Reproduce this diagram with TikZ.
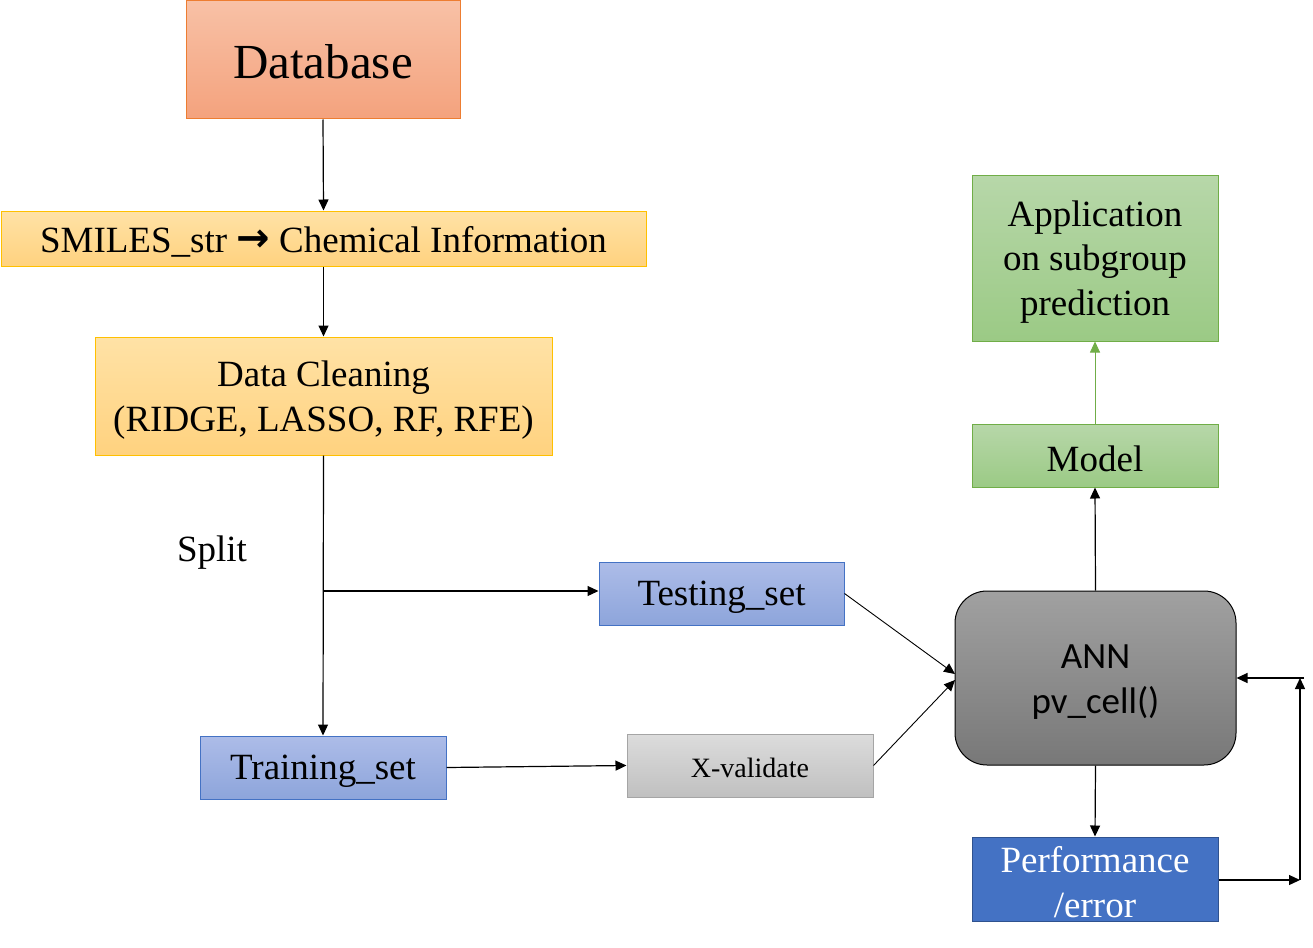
\documentclass[tikz,border=0pt]{standalone}
\usepackage{fontspec}
\setmainfont{Liberation Serif}
\newfontfamily\calibri{Carlito}
\newfontfamily\dejavub{DejaVu Sans Bold}
\usetikzlibrary{arrows.meta,calc}
\definecolor{orBorder}{HTML}{ED7D31}
\definecolor{orTop}{HTML}{F8C1A6}
\definecolor{orBot}{HTML}{F4A27D}
\definecolor{yeBorder}{HTML}{FFC000}
\definecolor{yeTop}{HTML}{FFE2A6}
\definecolor{yeBot}{HTML}{FFD27F}
\definecolor{blBorder}{HTML}{4472C4}
\definecolor{blTop}{HTML}{ADBCE8}
\definecolor{blBot}{HTML}{8DA5DB}
\definecolor{grBorder}{HTML}{A5A5A5}
\definecolor{grTop}{HTML}{DCDCDC}
\definecolor{grBot}{HTML}{C0C0C0}
\definecolor{gnBorder}{HTML}{70AD47}
\definecolor{gnTop}{HTML}{B7D7A9}
\definecolor{gnBot}{HTML}{9BCA85}
\definecolor{perfFill}{HTML}{4472C4}
\definecolor{perfBorder}{HTML}{2F528F}
\tikzset{
  box/.style={draw, line width=1pt, inner sep=0pt},
  txt/.style={inner sep=0pt, align=center, font=\fontsize{37}{44.5}\selectfont},
  orangebox/.style={box, draw=orBorder, top color=orTop, bottom color=orBot},
  yellowbox/.style={box, draw=yeBorder, top color=yeTop, bottom color=yeBot},
  bluebox/.style={box, draw=blBorder, top color=blTop, bottom color=blBot},
  graybox/.style={box, draw=grBorder, top color=grTop, bottom color=grBot},
  greenbox/.style={box, draw=gnBorder, top color=gnTop, bottom color=gnBot},
  conn/.style={line width=1.2pt, -{Triangle[length=11pt,width=10pt]}},
  thinconn/.style={line width=0.9pt, -{Triangle[length=11pt,width=10pt]}},
}
\begin{document}
\begin{tikzpicture}[x=1pt,y=-1pt]
\useasboundingbox (0,0) rectangle (1313,947);
% boxes
\node[orangebox, minimum width=274pt, minimum height=118pt] (db) at (323,60) {};
\node[yellowbox, minimum width=645pt, minimum height=55pt] (sm) at (323.5,238.5) {};
\node[yellowbox, minimum width=457pt, minimum height=118pt] (dc) at (323.5,396) {};
\node[bluebox, minimum width=245pt, minimum height=63pt] (te) at (721.5,593.5) {};
\node[bluebox, minimum width=246pt, minimum height=63pt] (tr) at (323,767.5) {};
\node[graybox, minimum width=246pt, minimum height=63pt] (xv) at (750,765.5) {};
\node[box, draw=black, rounded corners=32pt, top color=black!37, bottom color=black!53,
      minimum width=281pt, minimum height=174pt] (ann) at (1095.5,678) {};
\node[greenbox, minimum width=246pt, minimum height=63pt] (mo) at (1095,455.5) {};
\node[greenbox, minimum width=246pt, minimum height=166pt] (ap) at (1095,258) {};
\node[box, draw=perfBorder, fill=perfFill, minimum width=246pt, minimum height=84pt]
  (pf) at (1095,879) {};
% texts
\node[txt, font=\fontsize{49}{58}\selectfont] (dbT) at ($(db.center)+(0,2)$) {Database};
\node[txt] (smT) at ($(sm.center)+(0,3)$)
  {SMILES\_str {\dejavub\fontsize{40}{40}\selectfont\raisebox{1pt}{→}} Chemical Information};
\node[txt] (dcT) at ($(dc.center)+(0,4)$) {Data Cleaning\\(RIDGE, LASSO, RF, RFE)};
\node[txt] (split) at (212,553) {Split};
\node[txt] (teT) at ($(te.center)+(0,4)$) {Testing\_set};
\node[txt] (trT) at ($(tr.center)+(0,4)$) {Training\_set};
\node[txt, font=\fontsize{28}{34}\selectfont] (xvT) at ($(xv.center)+(0,2)$) {X-validate};
\node[txt, font=\calibri\fontsize{37}{44.5}\selectfont] (annT) at ($(ann.center)+(0,4)$) {ANN\\pv\_cell()};
\node[txt] (moT) at ($(mo.center)+(0,3)$) {Model};
\node[txt] (apT) at ($(ap.center)+(0,4)$) {Application\\on subgroup\\prediction};
\node[txt, text=white] (pfT) at ($(pf.center)+(0,3)$) {Performance\\/error};
% helper coordinates
\coordinate (br) at (323,591);
\coordinate (annA) at (955,674);
\coordinate (annB) at (955,680);
\coordinate (fbR) at (1300,880);
\coordinate (fbT) at (1300,678);
\coordinate (fbS) at (1304,678);
% connectors
\draw[conn] (db.south) -- (sm.north);
\draw[conn] (sm.south) -- (dc.north);
\draw[conn] (dc.south) -- (tr.north);
\draw[conn] (br) -- (br -| te.west);
\draw[conn] (tr.east) -- (xv.west);
\draw[thinconn] (te.east) -- (annA);
\draw[thinconn] (xv.east) -- (annB);
\draw[conn] (ann.north) -- (mo.south);
\draw[line width=0.8pt, color=gnBorder, -{Triangle[length=11pt,width=10pt]}] (mo.north) -- (ap.south);
\draw[conn] (ann.south) -- (pf.north);
\draw[conn] (pf.east |- fbR) -- (fbR);
\draw[conn] (fbR) -- (fbT);
\draw[conn] (fbS) -- (fbS -| ann.east);
\end{tikzpicture}
\end{document}
